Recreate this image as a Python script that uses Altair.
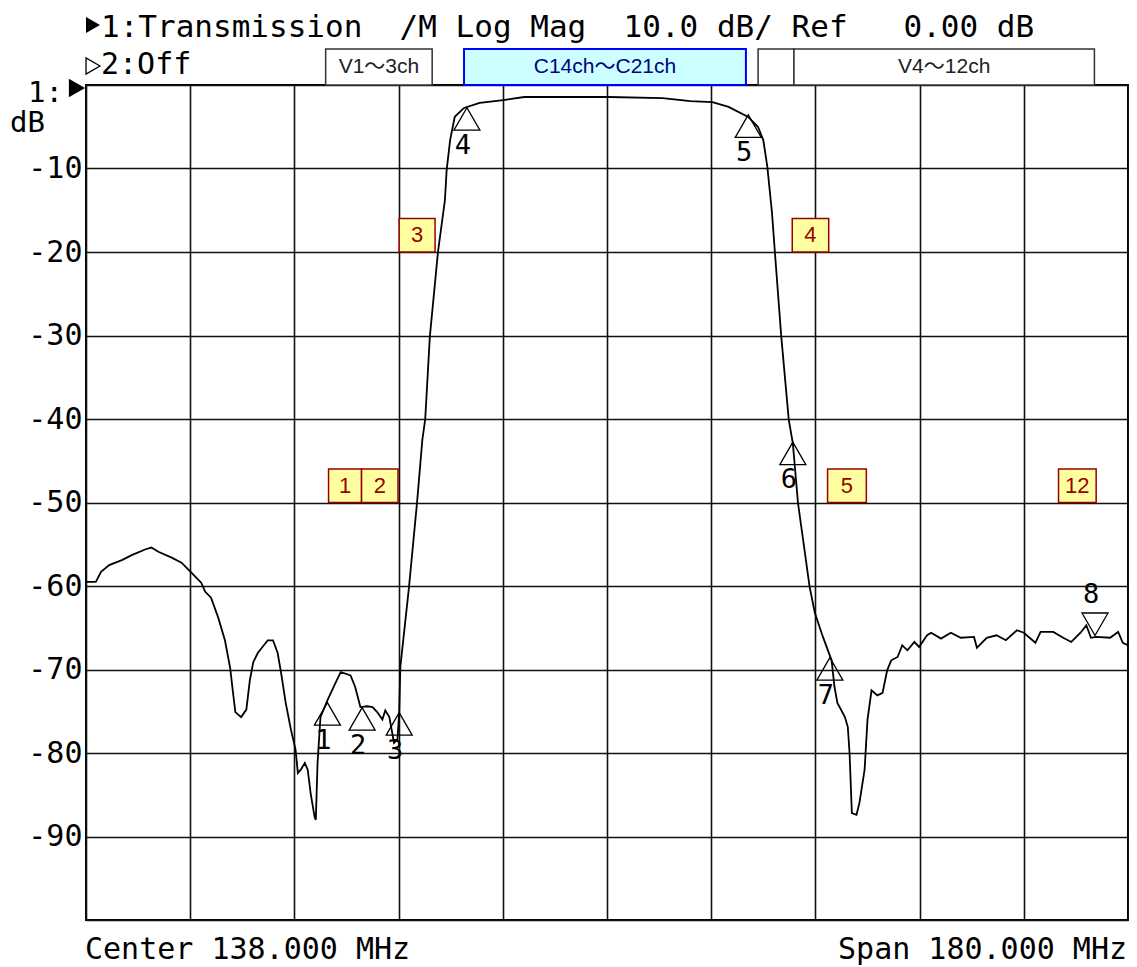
import altair as alt
import pandas as pd

freq_mhz = [48.0, 49.7, 50.6, 52.0, 54.2, 55.9, 58.3, 59.3, 60.5, 62.8,
            64.5, 66.2, 67.9, 68.6, 69.6, 70.8, 72.0, 72.9, 73.4, 73.8,
            74.8, 75.7, 76.3, 76.9, 77.7, 79.4, 80.3, 81.1, 81.7, 82.5,
            83.4, 84.2, 84.6, 85.1, 85.8, 86.3, 86.8, 87.5, 87.7, 88.0,
            88.5, 89.7, 90.9, 92.0, 93.7, 94.5, 95.4, 96.6, 97.5, 98.3,
            99.2, 99.7, 100.4, 100.9, 101.2, 101.8, 102.1, 102.3, 103.8, 105.2,
            106.1, 106.6, 107.4, 108.8, 110.0, 110.3, 110.9, 111.7, 113.3, 116.0,
            120.1, 123.7, 134.9, 138.3, 147.6, 152.4, 156.2, 159.0, 162.4, 164.1,
            165.0, 165.7, 166.5, 167.0, 168.1, 169.4, 170.1, 171.0, 171.8, 173.0,
            173.9, 175.3, 176.8, 177.3, 177.8, 179.1, 179.6, 179.9, 180.3, 181.1,
            181.6, 182.5, 183.0, 183.7, 184.7, 185.6, 186.4, 187.1, 188.2, 189.0,
            189.9, 191.1, 191.9, 193.3, 194.0, 195.7, 197.4, 199.1, 201.4, 201.9,
            203.6, 205.3, 206.9, 208.8, 210.0, 212.0, 212.9, 215.1, 216.8, 218.2,
            219.8, 220.8, 221.6, 222.5, 224.9, 226.3, 227.1, 228.0]

trace_db = [-59.5, -59.5, -58.3, -57.5, -56.9, -56.3, -55.6, -55.4, -55.9, -56.6,
            -57.2, -58.4, -59.6, -60.7, -61.4, -63.7, -66.5, -69.8, -72.8, -75.1,
            -75.7, -74.8, -71.3, -69.1, -68.0, -66.5, -66.5, -68.0, -70.4, -74.0,
            -77.2, -79.6, -82.4, -82.0, -81.2, -82.0, -84.8, -87.7, -88.0, -81.2,
            -75.7, -73.7, -71.9, -70.3, -70.7, -72.1, -74.5, -74.4, -74.5, -75.1,
            -76.0, -74.9, -75.7, -77.6, -78.8, -78.4, -75.2, -69.7, -60.1, -49.9,
            -42.5, -40.0, -30.1, -20.0, -13.8, -10.2, -6.6, -3.8, -2.75, -2.15,
            -1.8, -1.44, -1.44, -1.44, -1.56, -1.92, -2.04, -2.63, -3.83, -5.03,
            -6.6, -9.8, -15.3, -20.0, -30.1, -40.1, -42.9, -50.1, -54.1, -60.1,
            -63.2, -66.1, -68.9, -72.1, -74.0, -75.7, -76.9, -80.0, -87.2, -87.4,
            -86.0, -82.0, -76.0, -72.5, -73.1, -72.8, -70.1, -68.9, -68.5, -67.1,
            -67.7, -66.7, -67.3, -65.9, -65.6, -66.3, -65.6, -66.2, -66.1, -67.4,
            -66.2, -65.9, -66.5, -65.3, -65.6, -66.8, -65.5, -65.5, -66.2, -66.7,
            -65.6, -64.7, -66.2, -66.1, -66.2, -65.5, -66.8, -67.1]

marker_up_freq = [89.7, 95.7, 102.1, 113.8, 162.4, 170.1, 176.5]
marker_up_db = [-74.0, -74.6, -75.2, -2.75, -3.6, -42.8, -68.6]
marker_up_label = ["1", "2", "3", "4", "5", "6", "7"]

marker_down_freq = [222.3]
marker_down_db = [-65.9]
marker_down_label = ["8"]

chan_label = ["1", "2", "3", "4", "5", "12"]
chan_f0 = [89.9, 95.6, 102.1, 170.0, 176.1, 216.0]
chan_f1 = [95.6, 101.9, 108.3, 176.3, 182.8, 222.5]
chan_db0 = [-50, -50, -20, -20, -50, -50]
chan_db1 = [-46, -46, -16, -16, -46, -46]

band_label = ["V1〜3ch", "", "V4〜12ch"]
band_f0 = [89.4, 164.1, 170.3]
band_f1 = [107.8, 170.3, 222.2]
hl_label = ["C14ch〜C21ch"]
hl_f0 = [113.3]
hl_f1 = [162.0]
band_db0 = 0.0
band_db1 = 4.3

NB = "\u00a0"
header_1 = "1:Transmission  /M Log Mag  10.0 dB/ Ref   0.00 dB".replace(" ", NB)
header_2 = "2:Off"
footer_left = "Center 138.000 MHz"
footer_right = "Span 180.000 MHz"

x_grid = [48, 66, 84, 102, 120, 138, 156, 174, 192, 210, 228]
y_grid = [-100, -90, -80, -70, -60, -50, -40, -30, -20, -10, 0]

MONO = "DejaVu Sans Mono"
SANS = "Liberation Sans, Noto Sans CJK JP, sans-serif"

xscale = alt.Scale(domain=[48, 228], nice=False, zero=False)
yscale = alt.Scale(domain=[-100, 0], nice=False, zero=False)
xaxis = alt.Axis(values=x_grid, labels=False, ticks=False, domain=False, grid=True,
                 gridColor="#111111", gridWidth=1.6, gridOpacity=1, title=None)
yaxis = alt.Axis(values=y_grid, ticks=False, domain=False, grid=True,
                 gridColor="#111111", gridWidth=1.6, gridOpacity=1, title=None,
                 labelExpr="datum.value <= -10 && datum.value >= -90 ? '-' + (-datum.value) : ''",
                 labelFont=MONO, labelFontSize=30, labelColor="black",
                 labelPadding=4, labelOverlap=False)


def X(field):
    return alt.X(field, type="quantitative", scale=xscale, axis=xaxis)


def Y(field):
    return alt.Y(field, type="quantitative", scale=yscale, axis=yaxis)


trace_df = pd.DataFrame({"f": freq_mhz, "db": trace_db})
trace = alt.Chart(trace_df).mark_line(color="black", strokeWidth=1.8).encode(
    x=X("f"), y=Y("db"))

mu_df = pd.DataFrame({"f": marker_up_freq, "db": marker_up_db, "lab": marker_up_label})
md_df = pd.DataFrame({"f": marker_down_freq, "db": marker_down_db, "lab": marker_down_label})

mk_up = alt.Chart(mu_df).mark_point(shape="triangle-up", filled=False, size=676,
                                    color="black", strokeWidth=1.3, opacity=1,
                                    yOffset=11).encode(x=X("f"), y=Y("db"))
mk_up_t = alt.Chart(mu_df).mark_text(font=MONO, fontSize=27, color="black",
                                     dx=-4, dy=38, baseline="middle").encode(
    x=X("f"), y=Y("db"), text="lab:N")
mk_dn = alt.Chart(md_df).mark_point(shape="triangle-down", filled=False, size=676,
                                    color="black", strokeWidth=1.3, opacity=1,
                                    yOffset=-11).encode(x=X("f"), y=Y("db"))
mk_dn_t = alt.Chart(md_df).mark_text(font=MONO, fontSize=27, color="black",
                                     dx=-4, dy=-40, baseline="middle").encode(
    x=X("f"), y=Y("db"), text="lab:N")

chan_df = pd.DataFrame({"f0": chan_f0, "f1": chan_f1, "d0": chan_db0, "d1": chan_db1,
                        "lab": chan_label})
chan_box = alt.Chart(chan_df).mark_rect(fill="#ffffa0", stroke="#990000",
                                        strokeWidth=1.5).encode(
    x=X("f0"), x2="f1", y=Y("d0"), y2="d1")
chan_txt = alt.Chart(chan_df).transform_calculate(
    fm="(datum.f0 + datum.f1) / 2", dm="(datum.d0 + datum.d1) / 2"
).mark_text(font=SANS, fontSize=22, color="#990000", baseline="middle").encode(
    x=X("fm"), y=Y("dm"), text="lab:N")

band_df = pd.DataFrame({"f0": band_f0, "f1": band_f1, "lab": band_label,
                        "d0": [band_db0] * 3, "d1": [band_db1] * 3})
band_box = alt.Chart(band_df).mark_rect(fill="white", stroke="#333333",
                                        strokeWidth=1.5).encode(
    x=X("f0"), x2="f1", y=Y("d0"), y2="d1")
band_txt = alt.Chart(band_df).transform_calculate(
    fm="(datum.f0 + datum.f1) / 2", dm="(datum.d0 + datum.d1) / 2"
).mark_text(font=SANS, fontSize=21, color="#222222", baseline="middle").encode(
    x=X("fm"), y=Y("dm"), text="lab:N")

hl_df = pd.DataFrame({"f0": hl_f0, "f1": hl_f1, "lab": hl_label,
                      "d0": [band_db0], "d1": [band_db1]})
hl_box = alt.Chart(hl_df).mark_rect(fill="#ccffff", stroke="#0000ff",
                                    strokeWidth=2).encode(
    x=X("f0"), x2="f1", y=Y("d0"), y2="d1")
hl_txt = alt.Chart(hl_df).transform_calculate(
    fm="(datum.f0 + datum.f1) / 2", dm="(datum.d0 + datum.d1) / 2"
).mark_text(font=SANS, fontSize=21, color="#000080", baseline="middle").encode(
    x=X("fm"), y=Y("dm"), text="lab:N")


def label(txt, x, y, size=31, align="left", font=MONO):
    return alt.Chart(pd.DataFrame({"t": [txt]})).mark_text(
        align=align, baseline="middle", font=font, fontSize=size, color="black"
    ).encode(x=alt.value(x), y=alt.value(y), text="t:N")


def tri(shape, x, y, size, filled):
    return alt.Chart(pd.DataFrame({"t": [0]})).mark_point(
        shape=shape, filled=filled, size=size, color="black", strokeWidth=1.3,
        opacity=1).encode(x=alt.value(x), y=alt.value(y))


texts = [
    tri("triangle-right", 7, -60, 260, True),
    label(header_1, 15, -57, size=31),
    tri("triangle-right", 7, -19, 260, False),
    label(header_2, 15, -20, size=30),
    label("1:", -58, 8, size=29),
    tri("triangle-right", -9, 3, 350, True),
    label("dB", -76, 38, size=29),
    label(footer_left, -1, 865, size=30),
    label(footer_right, 1041, 865, size=30, align="right"),
]

chart = alt.layer(
    trace, mk_up, mk_up_t, mk_dn, mk_dn_t, chan_box, chan_txt,
    band_box, band_txt, hl_box, hl_txt, *texts
).properties(
    width=1042, height=835,
    autosize=alt.AutoSizeParams(type="none"),
    padding={"left": 78, "top": 77, "right": 1, "bottom": 45},
    background="white",
).configure_view(stroke="black", strokeWidth=2)

chart.save("out.html", embed_options={"renderer": "svg", "actions": False})
